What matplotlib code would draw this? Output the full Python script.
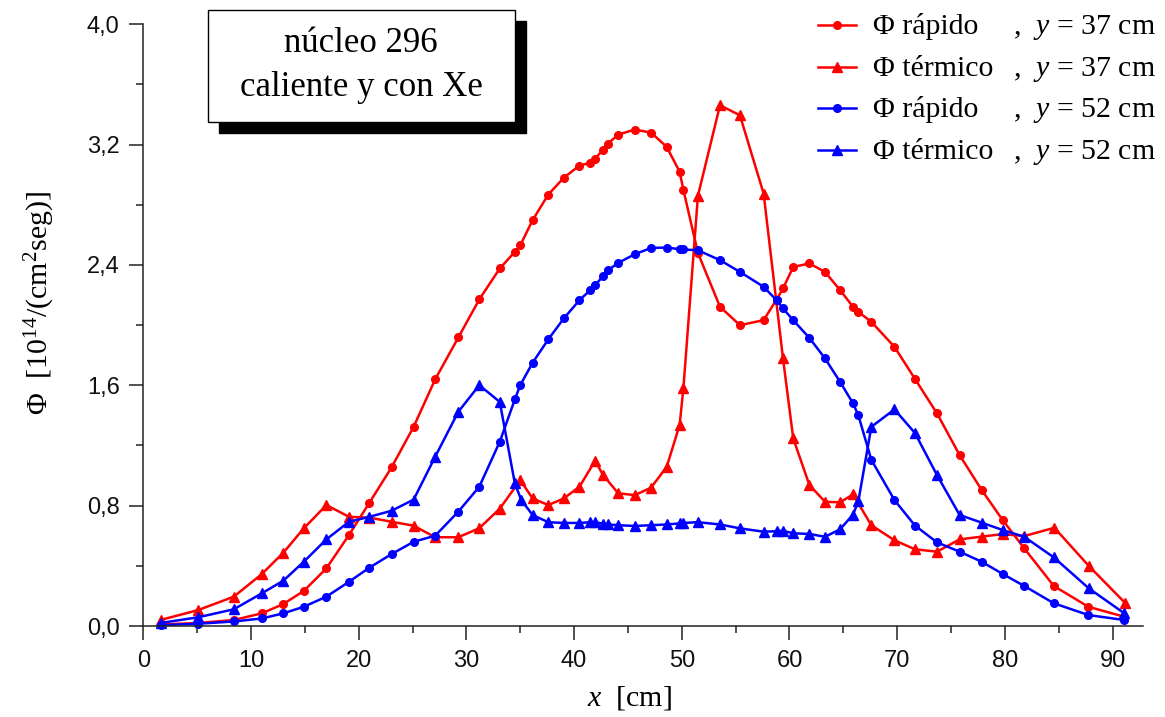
import matplotlib

matplotlib.use("Agg")
import matplotlib.pyplot as plt  # noqa: E402
from matplotlib.lines import Line2D  # noqa: E402
from matplotlib.patches import Rectangle  # noqa: E402
from matplotlib.ticker import FuncFormatter, MultipleLocator  # noqa: E402

plt.rcParams["mathtext.fontset"] = "custom"
plt.rcParams["mathtext.rm"] = "Liberation Serif"
plt.rcParams["mathtext.it"] = "Liberation Serif:italic"

# ---- data ----
x_rap_37 = [1.6, 5.1, 8.4, 11.0, 13.0, 14.9, 17.0, 19.1, 21.0, 23.05, 25.1, 27.1, 29.25, 31.2,
            33.1, 34.5, 35.0, 36.15, 37.6, 39.05, 40.5, 41.5, 41.95, 42.7, 43.15, 44.1, 45.65,
            47.15, 48.6, 49.8, 50.15, 51.5, 53.55, 55.4, 57.6, 58.8, 59.4, 60.35, 61.85, 63.3,
            64.7, 65.9, 66.4, 67.6, 69.75, 71.65, 73.7, 75.8, 77.85, 79.8, 81.8, 84.55, 87.75, 91.05]
phi_rap_37 = [0.01, 0.02, 0.04, 0.084, 0.146, 0.233, 0.383, 0.605, 0.82, 1.054, 1.324, 1.639, 1.918,
              2.171, 2.377, 2.487, 2.53, 2.698, 2.868, 2.98, 3.061, 3.079, 3.107, 3.167, 3.207, 3.267,
              3.30, 3.28, 3.185, 3.02, 2.90, 2.48, 2.122, 2.0, 2.033, 2.17, 2.244, 2.387, 2.41, 2.354,
              2.233, 2.122, 2.088, 2.022, 1.856, 1.643, 1.413, 1.136, 0.904, 0.704, 0.516, 0.266,
              0.128, 0.062]

x_ter_37 = [1.6, 5.1, 8.4, 11.0, 13.0, 14.9, 17.0, 19.1, 21.0, 23.05, 25.1, 27.1, 29.25, 31.2,
            33.1, 35.0, 36.15, 37.6, 39.05, 40.5, 41.95, 42.7, 44.1, 45.65, 47.15, 48.6, 49.8,
            50.15, 51.5, 53.55, 55.4, 57.6, 59.4, 60.35, 61.85, 63.3, 64.7, 65.9, 67.6, 69.75,
            71.65, 73.7, 75.8, 77.85, 79.8, 81.8, 84.6, 87.8, 91.2]
phi_ter_37 = [0.04, 0.106, 0.195, 0.345, 0.487, 0.649, 0.804, 0.726, 0.72, 0.693, 0.667, 0.59, 0.59,
              0.65, 0.78, 0.97, 0.848, 0.804, 0.848, 0.926, 1.098, 1.003, 0.882, 0.87, 0.92, 1.058,
              1.336, 1.579, 2.86, 3.462, 3.395, 2.875, 1.779, 1.247, 0.937, 0.826, 0.822, 0.875,
              0.67, 0.57, 0.51, 0.494, 0.576, 0.594, 0.611, 0.598, 0.653, 0.399, 0.151]

x_rap_52 = [1.6, 5.1, 8.4, 11.0, 13.0, 14.9, 17.0, 19.1, 21.0, 23.05, 25.1, 27.1, 29.25, 31.2,
            33.1, 34.5, 35.0, 36.15, 37.6, 39.05, 40.5, 41.5, 41.95, 42.7, 43.15, 44.1, 45.65,
            47.15, 48.6, 49.8, 50.15, 51.5, 53.55, 55.4, 57.6, 58.8, 59.4, 60.35, 61.85, 63.3,
            64.7, 65.9, 66.4, 67.6, 69.75, 71.65, 73.7, 75.8, 77.85, 79.8, 81.8, 84.55, 87.75, 91.05]
phi_rap_52 = [0.005, 0.015, 0.03, 0.05, 0.084, 0.128, 0.195, 0.294, 0.388, 0.478, 0.56, 0.60, 0.76,
              0.926, 1.225, 1.506, 1.601, 1.75, 1.905, 2.045, 2.166, 2.233, 2.266, 2.326, 2.365,
              2.414, 2.472, 2.513, 2.516, 2.505, 2.503, 2.498, 2.432, 2.354, 2.255, 2.166, 2.111,
              2.033, 1.915, 1.779, 1.623, 1.48, 1.40, 1.105, 0.837, 0.668, 0.556, 0.494, 0.427,
              0.346, 0.266, 0.151, 0.073, 0.04]

x_ter_52 = [1.6, 5.1, 8.4, 11.0, 13.0, 14.9, 17.0, 19.1, 21.0, 23.05, 25.1, 27.1, 29.25, 31.2,
            33.1, 34.5, 35.1, 36.15, 37.6, 39.05, 40.5, 41.5, 41.95, 42.7, 43.15, 44.1, 45.65,
            47.15, 48.6, 49.8, 50.15, 51.5, 53.55, 55.4, 57.6, 58.8, 59.4, 60.35, 61.85, 63.3,
            64.7, 65.9, 66.4, 67.6, 69.75, 71.65, 73.7, 75.8, 77.85, 79.8, 81.8, 84.55, 87.8, 91.1]
phi_ter_52 = [0.02, 0.058, 0.111, 0.217, 0.301, 0.427, 0.576, 0.693, 0.726, 0.766, 0.84, 1.125,
              1.424, 1.601, 1.49, 0.948, 0.837, 0.738, 0.69, 0.685, 0.685, 0.69, 0.69, 0.68, 0.675,
              0.67, 0.665, 0.67, 0.675, 0.682, 0.685, 0.69, 0.675, 0.649, 0.627, 0.63, 0.633, 0.616,
              0.612, 0.593, 0.643, 0.74, 0.83, 1.324, 1.44, 1.283, 1.003, 0.738, 0.687, 0.638,
              0.593, 0.456, 0.25, 0.084]

series = [
    (x_rap_37, phi_rap_37, "red", "o", "Φ rápido", "37"),
    (x_ter_37, phi_ter_37, "red", "^", "Φ térmico", "37"),
    (x_rap_52, phi_rap_52, "blue", "o", "Φ rápido", "52"),
    (x_ter_52, phi_ter_52, "blue", "^", "Φ térmico", "52"),
]

W, H = 1165, 717
SERIF = "Liberation Serif"
SANS = "Liberation Sans"


def fx(px):
    return px / W


def fy(py):
    return 1 - py / H


fig = plt.figure(figsize=(W / 100, H / 100), dpi=100)
ax = fig.add_axes((fx(143.3), fy(626), (1142.7 - 143.3) / W, (626 - 24.3) / H))

for xs, ys, col, mk, _, _ in series:
    ms = 5.5 if mk == "o" else 7.5
    ax.plot(xs, ys, color=col, lw=1.8, marker=mk, ms=ms, mec=col, mfc=col, clip_on=False)

ax.set_xlim(0, 92.8)
ax.set_ylim(0, 4.0)
ax.xaxis.set_major_locator(MultipleLocator(10))
ax.xaxis.set_minor_locator(MultipleLocator(5))
ax.yaxis.set_major_locator(MultipleLocator(0.8))
ax.yaxis.set_minor_locator(MultipleLocator(0.4))
ax.yaxis.set_major_formatter(FuncFormatter(lambda v, _: f"{v:.1f}".replace(".", ",")))
for s in ("top", "right"):
    ax.spines[s].set_visible(False)
for s in ("left", "bottom"):
    ax.spines[s].set_linewidth(1.1)
    ax.spines[s].set_color("#222222")
ax.tick_params(which="major", length=10, width=1.1, color="#222222", pad=7,
               labelsize=17, labelcolor="#111111")
ax.tick_params(which="minor", length=5, width=1.1, color="#222222")
for lab in ax.get_xticklabels() + ax.get_yticklabels():
    lab.set_fontfamily(SANS)

# axis labels
fig.text(fx(40), fy(303), "Φ  [10$^{14}$/(cm$^{2}$seg)]", rotation=90, ha="center", va="center",
         fontsize=21.5, fontfamily=SERIF)
fig.text(fx(629), fy(698), "$x$  [cm]", ha="center", va="center", fontsize=21.5, fontfamily=SERIF)

# shadowed text box
bx0, by0, bx1, by1 = 208, 10, 515, 122
off = 11
fig.add_artist(Rectangle((fx(bx0 + off), fy(by1 + off)), (bx1 - bx0) / W, (by1 - by0) / H,
                         transform=fig.transFigure, facecolor="black", edgecolor="black"))
fig.add_artist(Rectangle((fx(bx0), fy(by1)), (bx1 - bx0) / W, (by1 - by0) / H,
                         transform=fig.transFigure, facecolor="white", edgecolor="black", lw=1.0))
fig.text(fx(361), fy(44), "núcleo 296", ha="center", va="center", fontsize=25, fontfamily=SERIF)
fig.text(fx(361), fy(88), "caliente y con Xe", ha="center", va="center", fontsize=25,
         fontfamily=SERIF)

# legend
rows = [25, 66.7, 108.3, 150]
for (xs, ys, col, mk, name, yv), ry in zip(series, rows):
    ms = 5.5 if mk == "o" else 7.5
    fig.add_artist(Line2D([fx(818), fx(837), fx(856)], [fy(ry)] * 3, transform=fig.transFigure,
                          color=col, lw=1.8, marker=mk, ms=ms, markevery=[1], mfc=col, mec=col))
    fig.text(fx(873), fy(ry + 9), name, ha="left", va="baseline", fontsize=21.5, fontfamily=SERIF)
    fig.text(fx(1013), fy(ry + 9), ",  $y$ = " + yv + " cm", ha="left", va="baseline",
             fontsize=21.5, fontfamily=SERIF)

fig.savefig("out.png", dpi=100)
